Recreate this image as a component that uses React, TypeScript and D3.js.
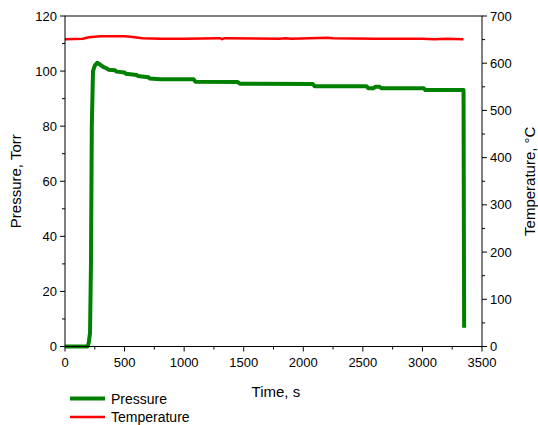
import React from 'react';
import * as d3 from 'd3';

const pressureTime = [0, 190, 200, 210, 218, 225, 235, 250, 270, 290, 320, 350, 365, 420, 432, 500, 512, 600, 612, 700, 712, 800, 1080, 1095, 1450, 1468, 2080, 2095, 2530, 2545, 2590, 2605, 2640, 2655, 3010, 3025, 3345, 3350];
const pressureValues = [0, 0, 1.5, 5, 30, 80, 100, 102, 103, 102.5, 101.5, 101, 100.5, 100.3, 99.8, 99.5, 99, 98.6, 98.2, 97.8, 97.3, 97, 97, 96.1, 96, 95.4, 95.3, 94.5, 94.5, 93.8, 93.8, 94.3, 94.3, 93.8, 93.8, 93.1, 93.1, 6.8];

const tempTime = [0, 150, 200, 300, 500, 550, 650, 800, 1000, 1300, 1320, 1340, 1800, 1850, 1900, 2200, 2250, 2600, 3000, 3100, 3200, 3345];
const tempValues = [651, 652, 655, 657, 657, 656, 653, 652, 652, 653, 651, 653, 652, 653, 652, 654, 653, 652, 652, 651, 652, 651];

const xTicks = [0, 500, 1000, 1500, 2000, 2500, 3000, 3500];
const leftTicks = [0, 20, 40, 60, 80, 100, 120];
const rightTicks = [0, 100, 200, 300, 400, 500, 600, 700];

const font = 'Liberation Sans, Arial, sans-serif';

export default function App() {
  const left = 65, right = 482, top = 16, bottom = 346.5;
  const x = d3.scaleLinear().domain([0, 3500]).range([left, right]);
  const yL = d3.scaleLinear().domain([0, 120]).range([bottom, top]);
  const yR = d3.scaleLinear().domain([0, 700]).range([bottom, top]);

  const pLine = d3.line<number>().x((_, i) => x(pressureTime[i])).y((d) => yL(d));
  const tLine = d3.line<number>().x((_, i) => x(tempTime[i])).y((d) => yR(d));

  const xMinor = d3.range(250, 3500, 500);
  const lMinor = d3.range(10, 120, 20);
  const rMinor = d3.range(50, 700, 100);

  return (
    <svg width={538} height={425} style={{ position: 'absolute', left: 0, top: 0, background: '#fff' }} fontFamily={font}>
      <path d={tLine(tempValues) ?? ''} fill="none" stroke="#ff0000" strokeWidth={2.5} />
      <path d={pLine(pressureValues) ?? ''} fill="none" stroke="#008000" strokeWidth={4} strokeLinejoin="round" />

      <rect x={left} y={top} width={right - left} height={bottom - top} fill="none" stroke="#000" strokeWidth={1} />

      {xTicks.map((t) => (
        <g key={'x' + t}>
          <line x1={x(t)} x2={x(t)} y1={bottom} y2={bottom + 5} stroke="#000" />
          <text x={x(t)} y={bottom + 20} fontSize={13} textAnchor="middle">{t}</text>
        </g>
      ))}
      {xMinor.map((t) => (
        <line key={'xm' + t} x1={x(t)} x2={x(t)} y1={bottom} y2={bottom + 3} stroke="#000" />
      ))}

      {leftTicks.map((t) => (
        <g key={'l' + t}>
          <line x1={left - 5} x2={left} y1={yL(t)} y2={yL(t)} stroke="#000" />
          <text x={left - 8} y={yL(t) + 4.5} fontSize={13} textAnchor="end">{t}</text>
        </g>
      ))}
      {lMinor.map((t) => (
        <line key={'lm' + t} x1={left - 3} x2={left} y1={yL(t)} y2={yL(t)} stroke="#000" />
      ))}

      {rightTicks.map((t) => (
        <g key={'r' + t}>
          <line x1={right} x2={right + 5} y1={yR(t)} y2={yR(t)} stroke="#000" />
          <text x={right + 8} y={yR(t) + 4.5} fontSize={13} textAnchor="start">{t}</text>
        </g>
      ))}
      {rMinor.map((t) => (
        <line key={'rm' + t} x1={right} x2={right + 3} y1={yR(t)} y2={yR(t)} stroke="#000" />
      ))}

      <text x={x(1770)} y={397} fontSize={15} textAnchor="middle">Time, s</text>
      <text transform={`translate(21,${(top + bottom) / 2}) rotate(-90)`} fontSize={15} textAnchor="middle">Pressure, Torr</text>
      <text transform={`translate(535,${(top + bottom) / 2}) rotate(-90)`} fontSize={15} textAnchor="middle">Temperature, °C</text>

      <line x1={70} x2={105} y1={398.5} y2={398.5} stroke="#008000" strokeWidth={4} />
      <text x={111} y={403.5} fontSize={14}>Pressure</text>
      <line x1={70} x2={105} y1={417} y2={417} stroke="#ff0000" strokeWidth={2.5} />
      <text x={111} y={421.5} fontSize={14}>Temperature</text>
    </svg>
  );
}
